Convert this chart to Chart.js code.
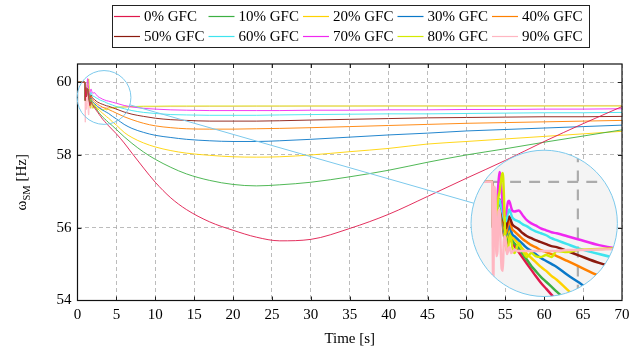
<!DOCTYPE html>
<html>
<head>
<meta charset="utf-8">
<script src="https://cdn.jsdelivr.net/npm/chart.js@4.4.1/dist/chart.umd.min.js"></script>
<style>
html,body{margin:0;padding:0;background:#fff;}
canvas{display:block;}
</style>
</head>
<body>
<canvas id="c" width="644" height="352"></canvas>
<script>
// ==================================================
// Data (time in s, frequency in Hz)
// ==================================================
const T=[0,0.95,1.0,1.05,1.1,1.15,1.2,1.25,1.3,1.35,1.4,1.45,1.5,1.55,1.6,1.65,1.7,1.75,1.8,1.85,1.9,
  2.0,2.2,2.4,2.6,2.8,3.0,3.25,3.5,3.75,4.0,4.5,5,6,7,8.5,10,12,14,17,20,23,26,30,35,40,45,50,55,60,65,70];
const START=[60,60,59.5,59.85,59.75,59.6,59.7,59.8,59.82,59.78,59.72];
const LABELS=['0% GFC','10% GFC','20% GFC','30% GFC','40% GFC','50% GFC','60% GFC','70% GFC','80% GFC','90% GFC'];
const COLORS=['#e0184c','#3cb043','#ffd200','#0a78c8','#ff8000','#8b1a0e','#3ee4ee','#f028f0','#d4ea00','#ffb6c1'];
const GFC0=START.concat([59.56,59.47,59.39,59.35,59.39,59.44,59.46,59.44,59.41,59.38,
  59.35,59.29,59.23,59.17,59.11,59.05,58.98,58.92,58.86,58.8,58.69,58.58,58.33,58.05,57.64,57.25,56.82,56.5,56.16,55.93,55.74,55.64,55.68,55.98,56.37,56.86,57.36,57.85,58.37,58.86,59.33]);
const GFC10=START.concat([59.58,59.5,59.42,59.38,59.42,59.47,59.5,59.47,59.44,59.41,
  59.38,59.33,59.27,59.21,59.15,59.1,59.04,58.99,58.94,58.89,58.8,58.7,58.5,58.32,58.08,57.88,57.66,57.48,57.3,57.19,57.15,57.18,57.25,57.4,57.58,57.8,58.0,58.17,58.35,58.52,58.69]);
const GFC20=START.concat([59.6,59.52,59.45,59.42,59.46,59.5,59.53,59.5,59.47,59.44,
  59.42,59.37,59.32,59.27,59.23,59.19,59.14,59.1,59.05,59.01,58.91,58.82,58.62,58.48,58.33,58.22,58.12,58.05,57.99,57.95,57.94,57.95,58.0,58.09,58.18,58.3,58.37,58.44,58.51,58.58,58.65]);
const GFC30=START.concat([59.62,59.54,59.48,59.45,59.49,59.53,59.56,59.53,59.5,59.47,
  59.45,59.41,59.37,59.33,59.3,59.27,59.23,59.2,59.17,59.14,59.06,58.99,58.84,58.73,58.62,58.54,58.48,58.43,58.39,58.37,58.37,58.39,58.43,58.49,58.55,58.6,58.66,58.7,58.74,58.78,58.82]);
const GFC40=START.concat([59.64,59.57,59.51,59.48,59.52,59.58,59.61,59.58,59.55,59.52,
  59.5,59.46,59.42,59.39,59.36,59.34,59.31,59.29,59.27,59.25,59.2,59.15,59.05,58.97,58.87,58.8,58.75,58.72,58.71,58.71,58.72,58.73,58.75,58.78,58.81,58.84,58.87,58.89,58.91,58.93,58.95]);
const GFC50=START.concat([59.66,59.6,59.55,59.53,59.57,59.62,59.65,59.63,59.6,59.57,
  59.55,59.52,59.48,59.45,59.43,59.41,59.39,59.37,59.35,59.34,59.3,59.26,59.18,59.12,59.06,59.01,58.97,58.95,58.93,58.93,58.93,58.94,58.96,58.98,59.0,59.02,59.03,59.04,59.05,59.05,59.06]);
const GFC60=START.concat([59.68,59.63,59.6,59.6,59.64,59.69,59.72,59.7,59.67,59.64,
  59.62,59.6,59.57,59.55,59.52,59.5,59.48,59.46,59.43,59.41,59.37,59.33,59.27,59.22,59.17,59.14,59.11,59.1,59.09,59.09,59.09,59.1,59.11,59.12,59.13,59.13,59.14,59.15,59.16,59.16,59.17]);
const GFC70=[60,60,59.5,59.85,59.8,59.7,59.85,60.0,60.1,60.05,59.9,
  59.78,59.68,59.65,59.68,59.74,59.8,59.81,59.78,59.74,59.71,
  59.7,59.71,59.66,59.61,59.58,59.56,59.53,59.51,59.49,59.48,59.45,59.42,59.36,59.32,59.28,59.26,59.24,59.23,59.22,59.22,59.22,59.22,59.23,59.23,59.24,59.24,59.25,59.25,59.26,59.26,59.27];
const GFC80=[60,60,59.5,59.8,59.75,59.65,59.75,59.85,59.9,59.98,60.06,
  60.09,59.9,59.55,59.35,59.3,59.32,59.42,59.46,59.42,59.34,
  59.28,59.38,59.3,59.24,59.28,59.25,59.24,59.26,59.24,59.3,59.29,59.31,59.32,59.33,59.34,59.34,59.345,59.345,59.345,59.345,59.345,59.345,59.345,59.345,59.345,59.345,59.345,59.345,59.345,59.345,59.345];
const GFC90=[60,60,58.9,59.95,59.9,59.25,59.3,59.7,59.72,59.35,59.12,
  59.1,59.4,59.45,59.38,59.27,59.3,59.34,59.33,59.28,59.29,
  59.31,59.3,59.3,59.3,59.3,59.3,59.3,59.3,59.3,59.3,59.31,59.31,59.315,59.32,59.32,59.325,59.33,59.33,59.335,59.335,59.34,59.34,59.345,59.345,59.35,59.35,59.35,59.355,59.355,59.36,59.36];
const SERIES=[GFC0,GFC10,GFC20,GFC30,GFC40,GFC50,GFC60,GFC70,GFC80,GFC90];
const X_TICKS=[0,5,10,15,20,25,30,35,40,45,50,55,60,65,70];
const Y_TICKS=[54,56,58,60];

// spy: magnify circle around (3.41 s, 59.58 Hz) into circle at (60 s, 56.12 Hz)
const SPY_ON=[3.41,59.58],SPY_AT=[60,56.12],SPY_R=26.9,SPY_MAG=2.72,SPY_COL='#7cc9ec';
const FONT='"Liberation Serif","DejaVu Serif",serif';

// ==================================================
// Plugins
// ==================================================
const framePlugin={id:'frame',afterDatasetsDraw(chart){
  const {ctx,chartArea:a,scales:{x,y}}=chart;
  ctx.save();ctx.strokeStyle='#222';ctx.lineWidth=1;
  X_TICKS.slice(1,-1).forEach(v=>{const p=Math.round(x.getPixelForValue(v))+.5;
    ctx.beginPath();ctx.moveTo(p,a.bottom);ctx.lineTo(p,a.bottom-4);ctx.moveTo(p,a.top);ctx.lineTo(p,a.top+4);ctx.stroke();});
  Y_TICKS.slice(1).forEach(v=>{const p=Math.round(y.getPixelForValue(v))+.5;
    ctx.beginPath();ctx.moveTo(a.left,p);ctx.lineTo(a.left+4,p);ctx.moveTo(a.right,p);ctx.lineTo(a.right-4,p);ctx.stroke();});
  ctx.lineWidth=1.2;ctx.strokeStyle='#111';
  ctx.strokeRect(a.left,a.top,a.right-a.left,a.bottom-a.top);
  ctx.restore();
}};

const spyPlugin={id:'spy',afterDatasetsDraw(chart){
  const {ctx,chartArea:a,scales:{x,y}}=chart;
  const sx=x.getPixelForValue(SPY_ON[0]),sy=y.getPixelForValue(SPY_ON[1]);
  const bx=x.getPixelForValue(SPY_AT[0]),by=y.getPixelForValue(SPY_AT[1]);
  const R=SPY_R*SPY_MAG,dx=bx-sx,dy=by-sy,d=Math.hypot(dx,dy),ux=dx/d,uy=dy/d;
  ctx.save();
  ctx.strokeStyle=SPY_COL;ctx.lineWidth=1;
  ctx.beginPath();ctx.moveTo(sx+ux*SPY_R,sy+uy*SPY_R);ctx.lineTo(bx-ux*R,by-uy*R);ctx.stroke();
  ctx.beginPath();ctx.arc(sx,sy,SPY_R,0,Math.PI*2);ctx.stroke();
  ctx.beginPath();ctx.arc(bx,by,R,0,Math.PI*2);ctx.fillStyle='#f4f4f4';ctx.fill();
  ctx.save();ctx.clip();
  ctx.translate(bx,by);ctx.scale(SPY_MAG,SPY_MAG);ctx.translate(-sx,-sy);
  ctx.strokeStyle='#ababab';ctx.lineWidth=0.8;ctx.setLineDash([4,3]);
  X_TICKS.slice(1,-1).forEach(v=>{const p=x.getPixelForValue(v);ctx.beginPath();ctx.moveTo(p,a.top);ctx.lineTo(p,a.bottom);ctx.stroke();});
  Y_TICKS.slice(1).forEach(v=>{const p=y.getPixelForValue(v);ctx.beginPath();ctx.moveTo(a.left,p);ctx.lineTo(a.right,p);ctx.stroke();});
  ctx.setLineDash([]);
  chart.data.datasets.forEach((ds,i)=>{chart.getDatasetMeta(i).dataset.draw(ctx);});
  ctx.restore();
  ctx.beginPath();ctx.arc(bx,by,R,0,Math.PI*2);ctx.strokeStyle=SPY_COL;ctx.lineWidth=1;ctx.stroke();
  ctx.restore();
}};

const textPlugin={id:'texts',afterDraw(chart){
  const {ctx,chartArea:a}=chart;
  ctx.save();ctx.fillStyle='#000';
  // x title
  ctx.font='15px '+FONT;ctx.textAlign='center';ctx.textBaseline='alphabetic';
  ctx.fillText('Time [s]',(a.left+a.right)/2,343);
  // y title with subscript
  ctx.translate(26,(a.top+a.bottom)/2);ctx.rotate(-Math.PI/2);
  const p1='ω',p2='SM',p3=' [Hz]';
  ctx.font='15px '+FONT;const w1=ctx.measureText(p1).width,w3=ctx.measureText(p3).width;
  ctx.font='10.5px '+FONT;const w2=ctx.measureText(p2).width;
  let cx=-(w1+w2+w3)/2;ctx.textAlign='left';
  ctx.font='15px '+FONT;ctx.fillText(p1,cx,0);cx+=w1;
  ctx.font='10.5px '+FONT;ctx.fillText(p2,cx,3.5);cx+=w2;
  ctx.font='15px '+FONT;ctx.fillText(p3,cx,0);
  ctx.restore();
  // legend
  ctx.save();
  ctx.fillStyle='#fff';ctx.fillRect(112.5,5.5,477,42);
  ctx.strokeStyle='#222';ctx.lineWidth=1;ctx.strokeRect(112.5,5.5,477,42);
  ctx.font='15px '+FONT;ctx.textBaseline='middle';ctx.textAlign='left';
  LABELS.forEach((l,i)=>{
    const col=i%5,row=Math.floor(i/5),tx=144+col*94.5,ty=row?36.5:16.5;
    ctx.strokeStyle=COLORS[i];ctx.lineWidth=1.2;
    ctx.beginPath();ctx.moveTo(tx-30,ty);ctx.lineTo(tx-4,ty);ctx.stroke();
    ctx.fillStyle='#000';ctx.fillText(l,tx,ty+1);
  });
  ctx.restore();
}};

// ==================================================
// Chart
// ==================================================
const datasets=SERIES.map((s,i)=>({label:LABELS[i],data:T.map((t,k)=>({x:t,y:s[k]})),
  borderColor:COLORS[i],backgroundColor:COLORS[i],borderWidth:0.9,pointRadius:0,
  cubicInterpolationMode:'monotone',fill:false}));

const tickFont={family:FONT,size:15};
new Chart(document.getElementById('c').getContext('2d'),{
  type:'line',
  data:{datasets},
  options:{
    responsive:false,animation:false,devicePixelRatio:1,
    layout:{padding:{top:64,right:22,left:0,bottom:0}},
    plugins:{legend:{display:false},tooltip:{enabled:false}},
    scales:{
      x:{type:'linear',min:0,max:70,
        afterBuildTicks:s=>{s.ticks=X_TICKS.map(v=>({value:v}));},
        ticks:{font:tickFont,color:'#000',padding:6,maxRotation:0,autoSkip:false},
        grid:{color:'#ababab',lineWidth:0.8,drawTicks:false},
        border:{display:false,dash:[4,3]},
        afterFit:s=>{s.height=51.5;}},
      y:{type:'linear',min:54,max:60.5,
        afterBuildTicks:s=>{s.ticks=Y_TICKS.map(v=>({value:v}));},
        ticks:{font:tickFont,color:'#000',padding:6},
        grid:{color:'#ababab',lineWidth:0.8,drawTicks:false},
        border:{display:false,dash:[4,3]},
        afterFit:s=>{s.width=77.5;}}
    }
  },
  plugins:[framePlugin,spyPlugin,textPlugin]
});
</script>
</body>
</html>
